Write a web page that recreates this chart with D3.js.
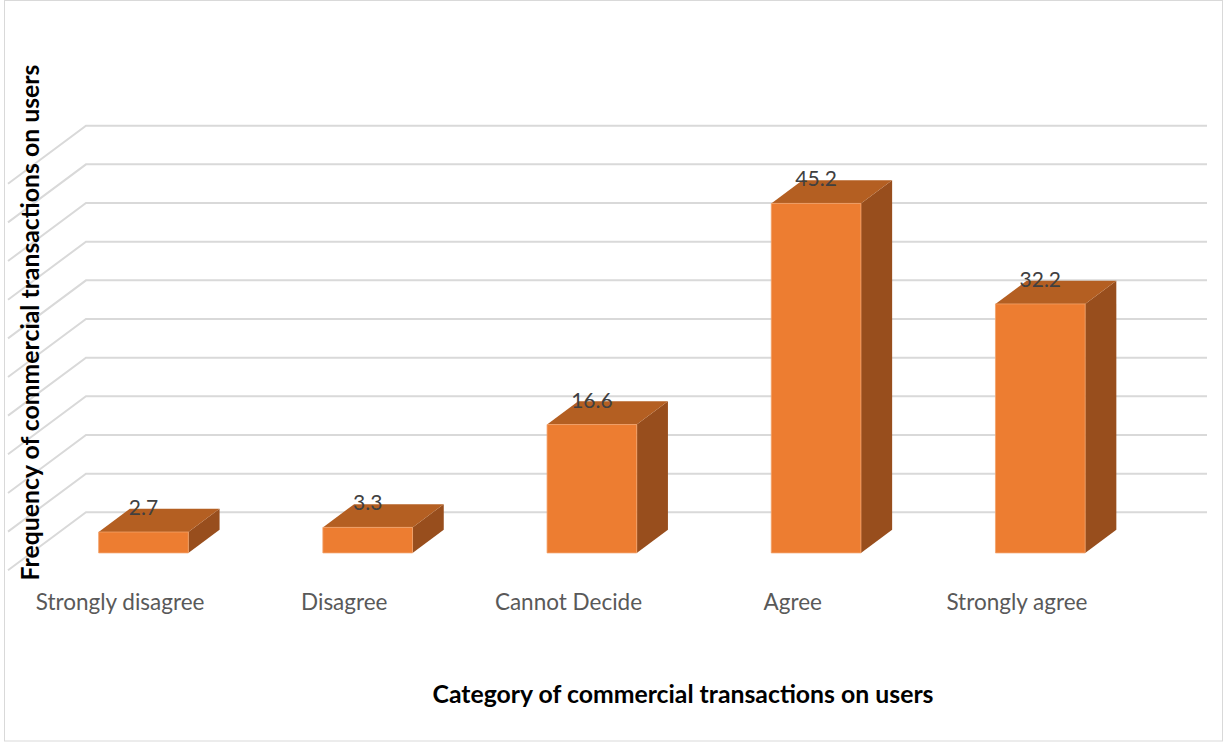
<!DOCTYPE html>
<html>
<head>
<meta charset="utf-8">
<script src="https://cdn.jsdelivr.net/npm/d3@7"></script>
<style>
  html, body { margin: 0; padding: 0; background: #ffffff; }
  svg { display: block; }
  text { font-family: Lato, "Open Sans", sans-serif; }
</style>
</head>
<body>
<svg id="chart" width="1223" height="742"></svg>
<script>
// Survey responses (percent) by category
const categories = ["Strongly disagree", "Disagree", "Cannot Decide", "Agree", "Strongly agree"];
const values = [2.7, 3.3, 16.6, 45.2, 32.2];
const tickValues = [0, 5, 10, 15, 20, 25, 30, 35, 40, 45, 50];
const xTitle = "Category of commercial transactions on users";
const yTitle = "Frequency of commercial transactions on users";

const svg = d3.select("#chart");
const W = 1223, H = 742;

// Chart frame
svg.append("rect")
  .attr("x", 4.5).attr("y", 0.5)
  .attr("width", W - 5).attr("height", H - 1.5)
  .attr("fill", "#ffffff").attr("stroke", "#d9d9d9").attr("stroke-width", 1);

// 3D projection: back wall in screen coords, depth shifts points down-left
const depth = { dx: -78, dy: 58 };
const x = d3.scaleBand().domain(categories).range([86, 1207]);
const y = d3.scaleLinear().domain([0, 50]).range([512.3, 125.7]);
const proj = (px, v, d) => [px + d * depth.dx, y(v) + d * depth.dy];

// Gridlines: on the back wall and along the left side wall
const grid = svg.append("g").attr("fill", "none").attr("stroke", "#d9d9d9").attr("stroke-width", 2);
tickValues.forEach(t => {
  const a = proj(x.range()[0], t, 1);
  const b = proj(x.range()[0], t, 0);
  const c = proj(x.range()[1], t, 0);
  grid.append("path").attr("d", `M${a[0]},${a[1]}L${b[0]},${b[1]}L${c[0]},${c[1]}`);
});

// Bars: width and depth each 40% of their band
const gapFrac = 0.3, barFrac = 0.4;
const dFront = 1 - gapFrac, dBack = gapFrac;
const colors = { front: "#ed7d31", top: "#b45f22", side: "#984e1d" };

const bars = svg.append("g");
categories.forEach((c, i) => {
  const v = values[i];
  const x0 = x(c) + x.bandwidth() * gapFrac;
  const x1 = x0 + x.bandwidth() * barFrac;
  const fbl = proj(x0, 0, dFront), fbr = proj(x1, 0, dFront);
  const ftl = proj(x0, v, dFront), ftr = proj(x1, v, dFront);
  const btl = proj(x0, v, dBack), btr = proj(x1, v, dBack);
  const bbr = proj(x1, 0, dBack);
  const poly = pts => "M" + pts.map(p => p.join(",")).join("L") + "Z";
  bars.append("path").attr("d", poly([fbr, ftr, btr, bbr])).attr("fill", colors.side);
  bars.append("path").attr("d", poly([ftl, ftr, btr, btl])).attr("fill", colors.top);
  bars.append("path").attr("d", poly([fbl, ftl, ftr, fbr])).attr("fill", colors.front)
    .attr("stroke", "#f3a26a").attr("stroke-width", 0.8);
  // value label above the front face
  bars.append("text")
    .attr("x", (ftl[0] + ftr[0]) / 2)
    .attr("y", ftl[1] - 17)
    .attr("text-anchor", "middle")
    .attr("font-size", 21)
    .attr("fill", "#404040")
    .text(v);
});

// Category labels along the front edge of the floor
svg.append("g").selectAll("text").data(categories).join("text")
  .attr("x", d => proj(x(d) + x.bandwidth() / 2, 0, 1)[0])
  .attr("y", 610)
  .attr("text-anchor", "middle")
  .attr("font-size", 22.5)
  .attr("fill", "#595959")
  .text(d => d);

// Axis titles
svg.append("text")
  .attr("x", 683).attr("y", 703)
  .attr("text-anchor", "middle")
  .attr("font-size", 24.8).attr("font-weight", "bold")
  .attr("fill", "#000000")
  .text(xTitle);

svg.append("text")
  .attr("transform", "translate(39,322.5) rotate(-90)")
  .attr("text-anchor", "middle")
  .attr("font-size", 24.8).attr("font-weight", "bold")
  .attr("fill", "#000000")
  .text(yTitle);
</script>
</body>
</html>
